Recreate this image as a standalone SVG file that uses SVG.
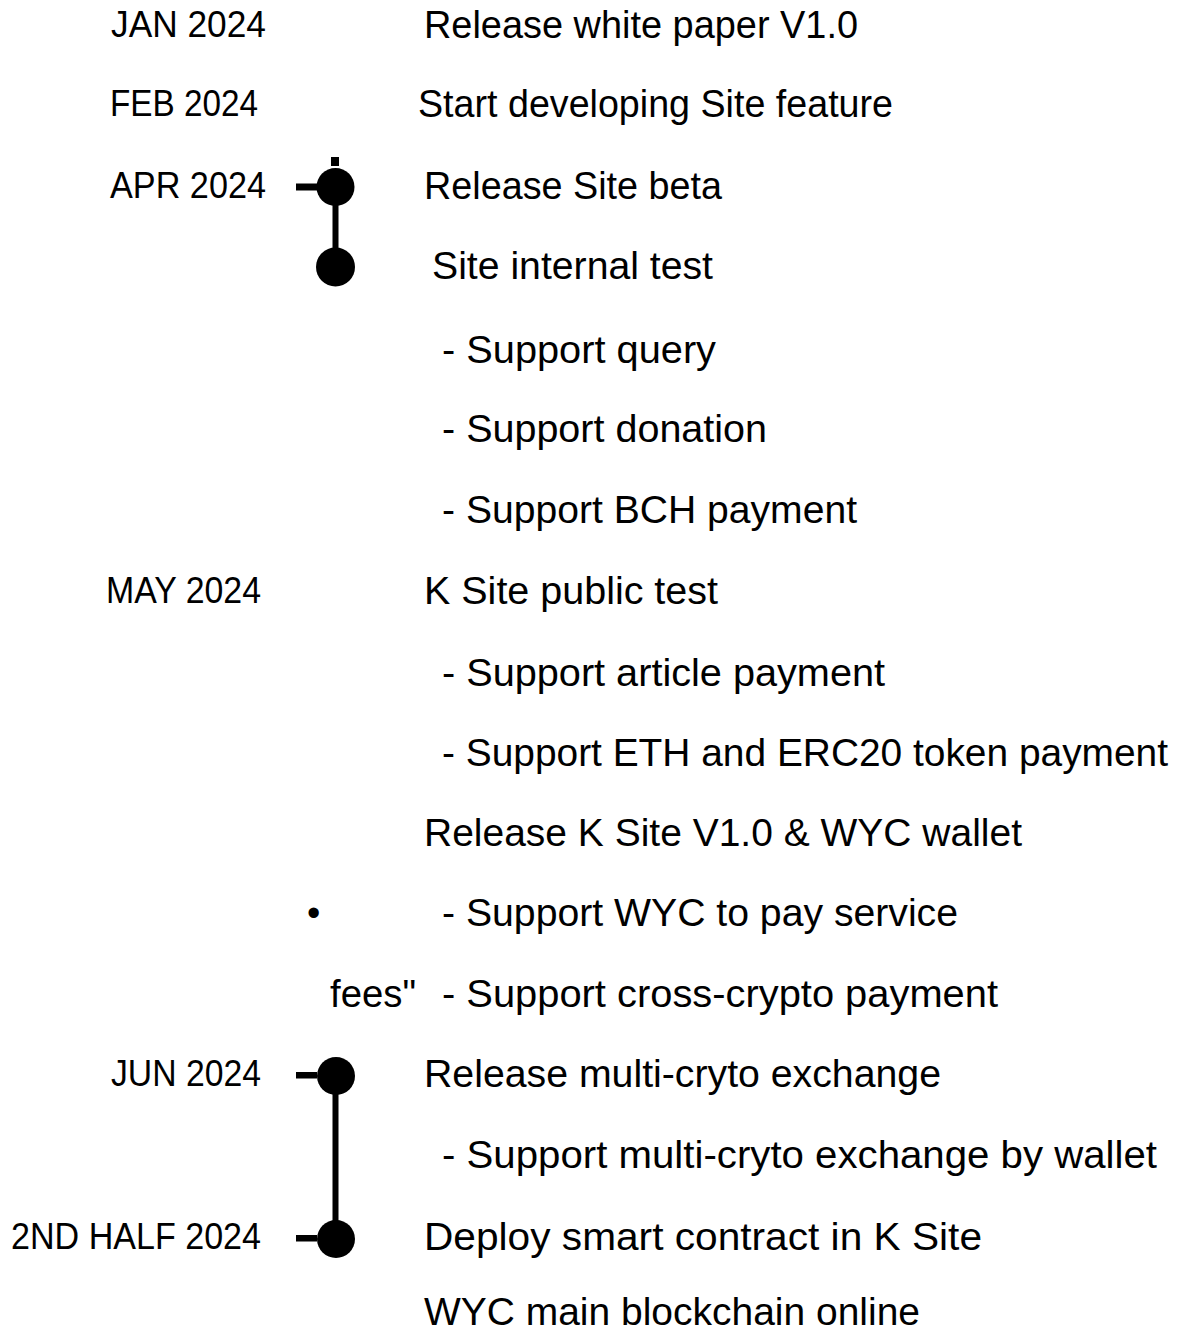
<svg xmlns="http://www.w3.org/2000/svg" width="1183" height="1333" viewBox="0 0 1183 1333">
<style>
text{font-family:"Liberation Sans",Arial,sans-serif;font-size:38px;fill:#000}
.date{font-size:36px}
.dot{fill:#000}
.bar{fill:#000}
</style>
<rect width="1183" height="1333" fill="#fff"/>
<g id="connectors">
<rect class="bar" x="332.5" y="187" width="6" height="80"/>
<rect class="bar" x="332.5" y="1076" width="6" height="163"/>
<rect class="bar" x="331" y="157" width="8" height="9"/>
<rect class="bar" x="296" y="183.5" width="21" height="7"/>
<rect class="bar" x="296" y="1072" width="21" height="6.5"/>
<rect class="bar" x="296" y="1235" width="21" height="6.5"/>
</g>
<g id="node-apr">
<circle class="dot" cx="335.5" cy="187" r="19"/>
<circle class="dot" cx="335.5" cy="267" r="19.5"/>
</g>
<g id="node-jun">
<circle class="dot" cx="336" cy="1076" r="19"/>
<circle class="dot" cx="336" cy="1239" r="19"/>
</g>
<g id="dates">
<text class="date" x="111" y="37" textLength="155" lengthAdjust="spacingAndGlyphs">JAN 2024</text>
<text class="date" x="110" y="116" textLength="148" lengthAdjust="spacingAndGlyphs">FEB 2024</text>
<text class="date" x="110" y="198" textLength="156" lengthAdjust="spacingAndGlyphs">APR 2024</text>
<text class="date" x="106" y="603" textLength="155" lengthAdjust="spacingAndGlyphs">MAY 2024</text>
<text class="date" x="111" y="1086" textLength="150" lengthAdjust="spacingAndGlyphs">JUN 2024</text>
<text class="date" x="11" y="1249" textLength="250" lengthAdjust="spacingAndGlyphs">2ND HALF 2024</text>
</g>
<g id="items">
<text x="424" y="37.5" textLength="434" lengthAdjust="spacingAndGlyphs">Release white paper V1.0</text>
<text x="418" y="116.5" textLength="475" lengthAdjust="spacingAndGlyphs">Start developing Site feature</text>
<text x="424" y="198.5" textLength="298" lengthAdjust="spacingAndGlyphs">Release Site beta</text>
<text x="432" y="278.5" textLength="281" lengthAdjust="spacingAndGlyphs">Site internal test</text>
<text x="442" y="362.5" textLength="274" lengthAdjust="spacingAndGlyphs">- Support query</text>
<text x="442" y="441.5" textLength="325" lengthAdjust="spacingAndGlyphs">- Support donation</text>
<text x="442" y="522.5" textLength="415" lengthAdjust="spacingAndGlyphs">- Support BCH payment</text>
<text x="424" y="603.5" textLength="294" lengthAdjust="spacingAndGlyphs">K Site public test</text>
<text x="442" y="685.5" textLength="443" lengthAdjust="spacingAndGlyphs">- Support article payment</text>
<text x="442" y="765.5" textLength="726" lengthAdjust="spacingAndGlyphs">- Support ETH and ERC20 token payment</text>
<text x="424" y="845.5" textLength="598" lengthAdjust="spacingAndGlyphs">Release K Site V1.0 &amp; WYC wallet</text>
<text x="307" y="925.5">•</text>
<text x="442" y="925.5" textLength="516" lengthAdjust="spacingAndGlyphs">- Support WYC to pay service</text>
<text x="330" y="1006.5" textLength="86" lengthAdjust="spacingAndGlyphs">fees"</text>
<text x="442" y="1006.5" textLength="556" lengthAdjust="spacingAndGlyphs">- Support cross-crypto payment</text>
<text x="424" y="1086.5" textLength="517" lengthAdjust="spacingAndGlyphs">Release multi-cryto exchange</text>
<text x="442" y="1167.5" textLength="715" lengthAdjust="spacingAndGlyphs">- Support multi-cryto exchange by wallet</text>
<text x="424" y="1249.5" textLength="558" lengthAdjust="spacingAndGlyphs">Deploy smart contract in K Site</text>
<text x="424" y="1325" textLength="496" lengthAdjust="spacingAndGlyphs">WYC main blockchain online</text>
</g>
</svg>
